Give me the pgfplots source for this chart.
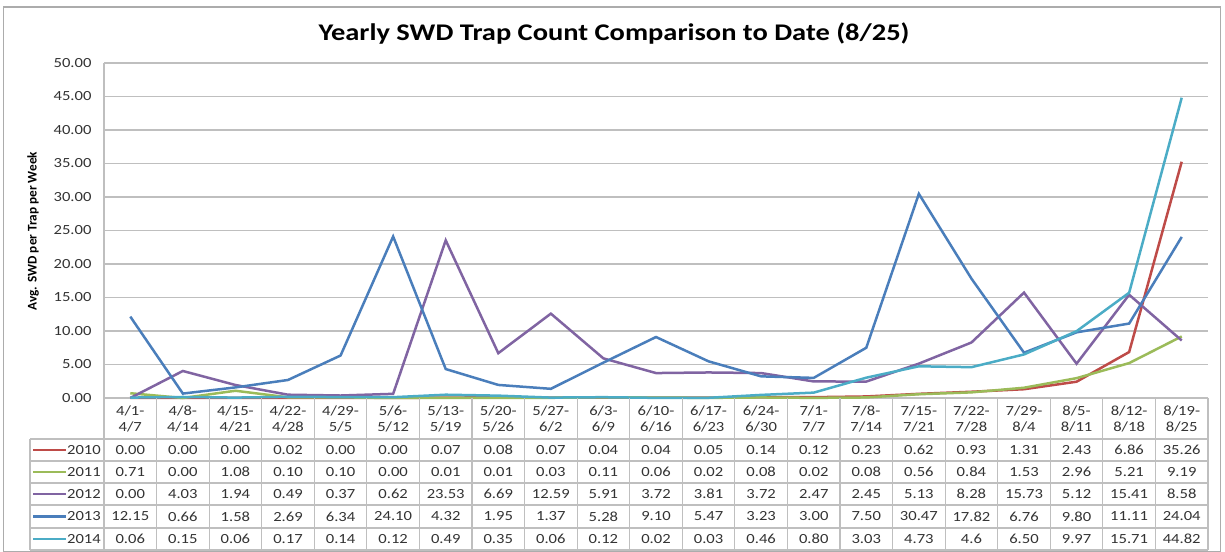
\documentclass[border=0pt]{standalone}
\usepackage{fontspec}
\setmainfont[FakeStretch=1.19]{Carlito}
\newfontfamily\plainfont{Carlito}
\usepackage{pgfplots}
\pgfplotsset{compat=1.18}
\usepackage{pgfplotstable}
\definecolor{c2010}{HTML}{BE4B48}
\definecolor{c2011}{HTML}{9BBB59}
\definecolor{c2012}{HTML}{8064A2}
\definecolor{c2013}{HTML}{4A7EBB}
\definecolor{c2014}{HTML}{4BACC6}
\definecolor{gridc}{HTML}{BFBFBF}
\definecolor{txt}{HTML}{333333}
\pgfplotstableread{
i y2010 y2011 y2012 y2013 y2014
0 0.00 0.71 0.00 12.15 0.06
1 0.00 0.00 4.03 0.66 0.15
2 0.00 1.08 1.94 1.58 0.06
3 0.02 0.10 0.49 2.69 0.17
4 0.00 0.10 0.37 6.34 0.14
5 0.00 0.00 0.62 24.10 0.12
6 0.07 0.01 23.53 4.32 0.49
7 0.08 0.01 6.69 1.95 0.35
8 0.07 0.03 12.59 1.37 0.06
9 0.04 0.11 5.91 5.28 0.12
10 0.04 0.06 3.72 9.10 0.02
11 0.05 0.02 3.81 5.47 0.03
12 0.14 0.08 3.72 3.23 0.46
13 0.12 0.02 2.47 3.00 0.80
14 0.23 0.08 2.45 7.50 3.03
15 0.62 0.56 5.13 30.47 4.73
16 0.93 0.84 8.28 17.82 4.6
17 1.31 1.53 15.73 6.76 6.50
18 2.43 2.96 5.12 9.80 9.97
19 6.86 5.21 15.41 11.11 15.71
20 35.26 9.19 8.58 24.04 44.82
}\swd
\newcommand{\tabfont}{\fontsize{14}{16.5}\selectfont}
\begin{document}
\begin{tikzpicture}[x=1bp,y=1bp]
\useasboundingbox (0,0) rectangle (1225,552);
\draw[gridc!90!black, line width=1.2] (3.5,0.5) rectangle (1220.5,545);
\node[font=\fontsize{24}{28}\selectfont\bfseries] at (614,518) {Yearly SWD Trap Count Comparison to Date (8/25)};
\node[rotate=90, font=\plainfont\fontsize{13.3}{15}\selectfont\bfseries] at (33,321) {Avg. SWD per Trap per Week};
\begin{axis}[at={(104bp,154bp)}, anchor=south west, scale only axis,
  width=1104bp, height=335bp,
  xmin=-0.5, xmax=20.5, ymin=0, ymax=50,
  ytick={0,5,...,50},
  xtick={0,...,20},
  xticklabels={{4/1-\\4/7},{4/8-\\4/14},{4/15-\\4/21},{4/22-\\4/28},{4/29-\\5/5},{5/6-\\5/12},{5/13-\\5/19},{5/20-\\5/26},{5/27-\\6/2},{6/3-\\6/9},{6/10-\\6/16},{6/17-\\6/23},{6/24-\\6/30},{7/1-\\7/7},{7/8-\\7/14},{7/15-\\7/21},{7/22-\\7/28},{7/29-\\8/4},{8/5-\\8/11},{8/12-\\8/18},{8/19-\\8/25}},
  x tick label style={align=center, font=\tabfont, text=txt, anchor=center, yshift=-21bp},
  y tick label style={font=\fontsize{14}{16}\selectfont, text=txt, xshift=-9bp},
  yticklabel style={/pgf/number format/.cd, fixed, fixed zerofill, precision=2, assume math mode=true},
  ymajorgrids, grid style={gridc, line width=1.2},
  axis x line*=bottom, axis y line*=left,
  axis line style={-, gridc, line width=1.2},
  major tick length=0pt,
  clip=false,
  every axis plot/.append style={line width=2.5bp},
]
\addplot[c2010, mark=none] table[x=i, y=y2010] {\swd};
\addplot[c2011, mark=none] table[x=i, y=y2011] {\swd};
\addplot[c2012, mark=none] table[x=i, y=y2012] {\swd};
\addplot[c2013, mark=none] table[x=i, y=y2013] {\swd};
\addplot[c2014, mark=none] table[x=i, y=y2014] {\swd};
\addplot[draw=none, mark=none, point meta=explicit symbolic, nodes near coords, every node near coord/.append style={anchor=center, yshift=-52bp, font=\tabfont, text=txt}] table[x=i, y expr=0, meta=y2010] {\swd};
\addplot[draw=none, mark=none, point meta=explicit symbolic, nodes near coords, every node near coord/.append style={anchor=center, yshift=-74bp, font=\tabfont, text=txt}] table[x=i, y expr=0, meta=y2011] {\swd};
\addplot[draw=none, mark=none, point meta=explicit symbolic, nodes near coords, every node near coord/.append style={anchor=center, yshift=-96bp, font=\tabfont, text=txt}] table[x=i, y expr=0, meta=y2012] {\swd};
\addplot[draw=none, mark=none, point meta=explicit symbolic, nodes near coords, every node near coord/.append style={anchor=center, yshift=-118.5bp, font=\tabfont, text=txt}] table[x=i, y expr=0, meta=y2013] {\swd};
\addplot[draw=none, mark=none, point meta=explicit symbolic, nodes near coords, every node near coord/.append style={anchor=center, yshift=-141bp, font=\tabfont, text=txt}] table[x=i, y expr=0, meta=y2014] {\swd};
\end{axis}
\foreach \k in {0,...,21} \draw[gridc, line width=1.2] ({104+\k*52.5714},154) -- ({104+\k*52.5714},2);
\draw[gridc, line width=1.2] (30,113) -- (30,2);
\foreach \yy in {113,91,69,47,24,2} \draw[gridc, line width=1.2] (30,\yy) -- (1208,\yy);
\foreach \c/\n/\yy in {c2010/2010/102,c2011/2011/80,c2012/2012/58,c2013/2013/35.5,c2014/2014/13} {
  \draw[\c, line width=2.5] (33,\yy) -- (66,\yy);
  \node[anchor=east, inner sep=0pt, font=\tabfont, text=txt] at (101,\yy) {\n};
}
\end{tikzpicture}
\end{document}
